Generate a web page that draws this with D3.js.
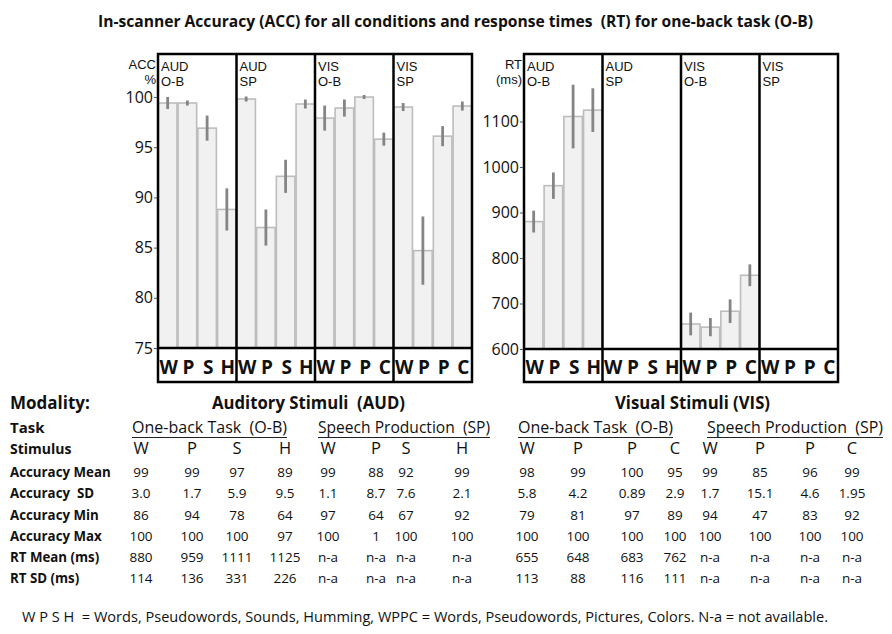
<!DOCTYPE html>
<html lang="en">
<head>
<meta charset="utf-8">
<script src="https://d3js.org/d3.v7.min.js"></script>
<style>
  body { margin: 0; background: #fff; }
  svg { font-family: "Open Sans", "DejaVu Sans", sans-serif; }
  text { fill: #111; white-space: pre; }
  .tight { font-family: "Liberation Sans", Arial, sans-serif; font-size: 13px; }
</style>
</head>
<body>
<svg id="chart" width="892" height="634"></svg>
<script>
// ---- data ----
const panelNames = [["AUD", "O-B"], ["AUD", "SP"], ["VIS", "O-B"], ["VIS", "SP"]];
const stimuli = [["W", "P", "S", "H"], ["W", "P", "S", "H"], ["W", "P", "P", "C"], ["W", "P", "P", "C"]];

// accuracy (%) bars, with error bar half-widths
const accMean = [[99.4, 99.4, 96.9, 88.8], [99.8, 87.0, 92.1, 99.3], [97.9, 98.9, 100.0, 95.8], [99.0, 84.7, 96.1, 99.1]];
const accErr = [[0.6, 0.25, 1.25, 2.1], [0.25, 1.8, 1.65, 0.45], [1.25, 0.85, 0.2, 0.65], [0.4, 3.4, 1.0, 0.45]];
const accTicks = [75, 80, 85, 90, 95, 100];

// response times (ms), only for one-back task
const rtMean = [[880, 959, 1111, 1125], [], [655, 648, 683, 762], []];
const rtErr = [[24, 29, 70, 48], [], [25, 20, 26, 24], []];
const rtTicks = [600, 700, 800, 900, 1000, 1100];

// table
const rowLabels = ["Accuracy Mean", "Accuracy  SD", "Accuracy Min", "Accuracy Max", "RT Mean (ms)", "RT SD (ms)"];
const tableStim = ["W", "P", "S", "H", "W", "P", "S", "H", "W", "P", "P", "C", "W", "P", "P", "C"];
const accMeanTxt = ["99", "99", "97", "89", "99", "88", "92", "99", "98", "99", "100", "95", "99", "85", "96", "99"];
const accSdTxt = ["3.0", "1.7", "5.9", "9.5", "1.1", "8.7", "7.6", "2.1", "5.8", "4.2", "0.89", "2.9", "1.7", "15.1", "4.6", "1.95"];
const accMinTxt = ["86", "94", "78", "64", "97", "64", "67", "92", "79", "81", "97", "89", "94", "47", "83", "92"];
const accMaxTxt = ["100", "100", "100", "97", "100", "1", "100", "100", "100", "100", "100", "100", "100", "100", "100", "100"];
const rtMeanTxt = ["880", "959", "1111", "1125", "n-a", "n-a", "n-a", "n-a", "655", "648", "683", "762", "n-a", "n-a", "n-a", "n-a"];
const rtSdTxt = ["114", "136", "331", "226", "n-a", "n-a", "n-a", "n-a", "113", "88", "116", "111", "n-a", "n-a", "n-a", "n-a"];
const modalities = ["Auditory Stimuli  (AUD)", "Visual Stimuli (VIS)"];
const tasks = ["One-back Task  (O-B)", "Speech Production  (SP)", "One-back Task  (O-B)", "Speech Production  (SP)"];

const titleText = "In-scanner Accuracy (ACC) for all conditions and response times  (RT) for one-back task (O-B)";
const noteText = "W P S H  = Words, Pseudowords, Sounds, Humming, WPPC = Words, Pseudowords, Pictures, Colors. N-a = not available.";

// ---- layout ----
const svg = d3.select("#chart");
const boxTop = 54, boxBottom = 382;

svg.append("text")
  .attr("x", 98).attr("y", 27)
  .attr("textLength", 715).attr("lengthAdjust", "spacingAndGlyphs")
  .style("font-size", "16px").style("font-weight", "bold")
  .text(titleText);

function drawChart(opt) {
  const g = svg.append("g");
  const panelX = d3.scaleBand().domain(d3.range(4)).range([opt.x0, opt.x1]);
  const y = d3.scaleLinear().domain(opt.domain).range(opt.range);
  const base = y(opt.domain[0]);

  // bars + error bars
  opt.mean.forEach((vals, p) => {
    const bx = d3.scaleBand().domain(d3.range(4))
      .range([panelX(p), panelX(p) + panelX.bandwidth()])
      .paddingInner(0.06).paddingOuter(0.02);
    const pg = g.append("g");
    pg.selectAll("rect").data(vals).enter().append("rect")
      .attr("x", (d, i) => bx(i))
      .attr("y", d => y(d))
      .attr("width", bx.bandwidth())
      .attr("height", d => base - y(d))
      .attr("fill", "#f1f1f1")
      .attr("stroke", "#bdbdbd")
      .attr("stroke-width", 1.6);
    pg.selectAll("line").data(vals).enter().append("line")
      .attr("x1", (d, i) => bx(i) + bx.bandwidth() / 2)
      .attr("x2", (d, i) => bx(i) + bx.bandwidth() / 2)
      .attr("y1", (d, i) => y(d + opt.err[p][i]))
      .attr("y2", (d, i) => y(d - opt.err[p][i]))
      .attr("stroke", "#858585")
      .attr("stroke-width", 2.8);
    // stimulus letters
    pg.selectAll("text").data(stimuli[p]).enter().append("text")
      .attr("x", (d, i) => bx(i) + bx.bandwidth() / 2 + 1)
      .attr("y", 374)
      .attr("text-anchor", "middle")
      .style("font-size", "19px").style("font-weight", "bold")
      .text(d => d);
    // panel name, two lines
    g.append("text")
      .attr("class", "tight")
      .attr("x", panelX(p) + 3).attr("y", 71)
      .selectAll("tspan").data(panelNames[p]).enter().append("tspan")
      .attr("x", panelX(p) + 3)
      .attr("dy", (d, k) => k ? 14.6 : 0)
      .text(d => d);
  });

  // frame
  g.append("rect")
    .attr("x", opt.x0).attr("y", boxTop)
    .attr("width", opt.x1 - opt.x0).attr("height", boxBottom - boxTop)
    .attr("fill", "none").attr("stroke", "#000").attr("stroke-width", 2.5);
  g.selectAll(".div").data(d3.range(1, 4)).enter().append("line")
    .attr("x1", d => panelX(d)).attr("x2", d => panelX(d))
    .attr("y1", boxTop).attr("y2", boxBottom)
    .attr("stroke", "#000").attr("stroke-width", 2.5);
  g.append("line")
    .attr("x1", opt.x0).attr("x2", opt.x1)
    .attr("y1", base).attr("y2", base)
    .attr("stroke", "#000").attr("stroke-width", 2.5);

  // y axis
  const axis = g.append("g")
    .attr("transform", `translate(${opt.x0 - 1},0)`)
    .call(d3.axisLeft(y).tickValues(opt.ticks).tickFormat(d3.format("d")).tickSize(3).tickPadding(1));
  axis.select(".domain").remove();
  axis.selectAll(".tick line").attr("stroke", "#555");
  axis.selectAll(".tick text")
    .attr("fill", "#111")
    .style("font-size", "16px")
    .style("font-family", "'Open Sans', sans-serif");

  g.append("text")
    .attr("class", "tight")
    .attr("x", opt.x0 - 2).attr("y", 69)
    .attr("text-anchor", "end")
    .selectAll("tspan").data(opt.unit).enter().append("tspan")
    .attr("x", opt.x0 - 2)
    .attr("dy", (d, k) => k ? 14.6 : 0)
    .text(d => d);
}

drawChart({ x0: 158, x1: 472, domain: [75, 100], range: [348, 97],
  ticks: accTicks, mean: accMean, err: accErr, unit: ["ACC", "%"] });
drawChart({ x0: 524, x1: 838, domain: [600, 1100], range: [349, 121.5],
  ticks: rtTicks, mean: rtMean, err: rtErr, unit: ["RT", "(ms)"] });

// ---- table ----
const colX = [141, 192, 237, 285, 328, 376, 406, 462, 527, 578, 632, 675, 710, 760, 810, 852];
const rowY = [477, 498, 519.5, 540.5, 562, 583];
const t = svg.append("g");

t.append("text").attr("x", 10).attr("y", 409)
  .style("font-size", "17px").style("font-weight", "bold").text("Modality:");
t.append("text").attr("x", 10).attr("y", 433)
  .style("font-size", "15px").style("font-weight", "bold").text("Task");
t.append("text").attr("x", 10).attr("y", 454)
  .style("font-size", "14px").style("font-weight", "bold").text("Stimulus");

const modX = [[212, 193], [615, 155]];
modalities.forEach((m, i) => {
  t.append("text").attr("x", modX[i][0]).attr("y", 409)
    .attr("textLength", modX[i][1]).attr("lengthAdjust", "spacingAndGlyphs")
    .style("font-size", "17px").style("font-weight", "bold").text(m);
});

const taskX = [[132, 155], [318, 172], [518, 155], [707, 176]];
tasks.forEach((s, i) => {
  t.append("text").attr("x", taskX[i][0]).attr("y", 433)
    .attr("textLength", taskX[i][1]).attr("lengthAdjust", "spacingAndGlyphs")
    .style("font-size", "15.5px").text(s);
  t.append("line")
    .attr("x1", taskX[i][0]).attr("x2", taskX[i][0] + taskX[i][1])
    .attr("y1", 437.5).attr("y2", 437.5)
    .attr("stroke", "#222").attr("stroke-width", 1.2);
});

t.selectAll(".stim").data(tableStim).enter().append("text")
  .attr("x", (d, i) => colX[i]).attr("y", 454)
  .attr("text-anchor", "middle")
  .style("font-size", "16.5px")
  .text(d => d);

const rows = [accMeanTxt, accSdTxt, accMinTxt, accMaxTxt, rtMeanTxt, rtSdTxt];
rows.forEach((vals, r) => {
  t.append("text").attr("x", 10).attr("y", rowY[r])
    .style("font-size", "13.3px").style("font-weight", "bold")
    .text(rowLabels[r]);
  t.selectAll(".r" + r).data(vals).enter().append("text")
    .attr("x", (d, i) => colX[i]).attr("y", rowY[r])
    .attr("text-anchor", "middle")
    .style("font-size", "13.5px")
    .text(d => d);
});

svg.append("text")
  .attr("x", 22).attr("y", 622)
  .attr("textLength", 806).attr("lengthAdjust", "spacingAndGlyphs")
  .style("font-size", "14px")
  .text(noteText);
</script>
</body>
</html>
